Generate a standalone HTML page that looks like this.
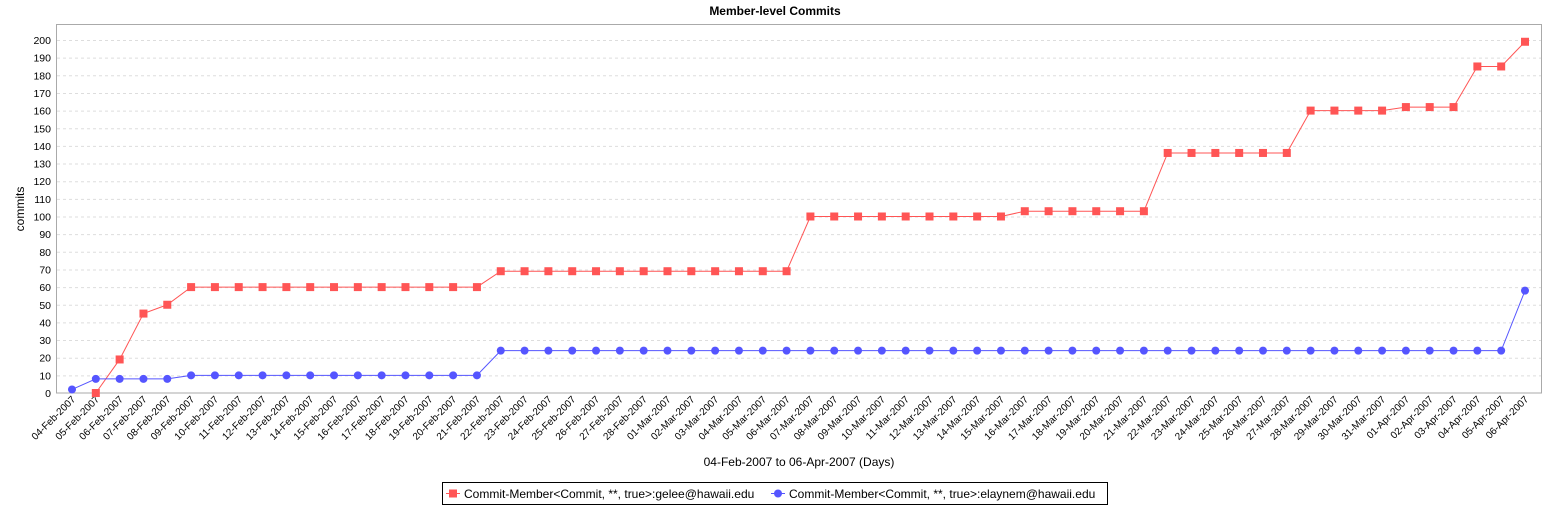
<!DOCTYPE html>
<html><head><meta charset="utf-8"><style>
body{margin:0;background:#fff;font-family:"Liberation Sans",sans-serif}
svg text{font-family:"Liberation Sans",sans-serif}
</style></head><body>
<svg id="chart" width="1550" height="506" xmlns="http://www.w3.org/2000/svg">
<text x="775" y="15" text-anchor="middle" font-size="12" font-weight="bold">Member-level Commits</text>
<rect x="56.5" y="24.5" width="1485" height="368.5" fill="#fff" stroke="#aaa"/>
<g id="grid"></g><g id="yticks"></g><g id="xticks"></g><g id="series"></g>
<text transform="translate(24,209) rotate(-90)" text-anchor="middle" font-size="12">commits</text>
<text x="799" y="466" text-anchor="middle" font-size="12">04-Feb-2007 to 06-Apr-2007 (Days)</text>
<g>
<rect x="442.5" y="482.5" width="665" height="22" fill="#fff" stroke="#000"/>
<g>
<line x1="446" y1="493.5" x2="460" y2="493.5" stroke="#ff5555"/><rect x="449" y="489.5" width="8" height="8" fill="#ff5555"/>
<text x="464" y="498" font-size="12">Commit-Member&lt;Commit, **, true&gt;:gelee@hawaii.edu</text></g>
<g>
<line x1="771" y1="493.5" x2="785" y2="493.5" stroke="#5555ff"/><circle cx="778" cy="493.5" r="4" fill="#5555ff"/>
<text x="789" y="498" font-size="12">Commit-Member&lt;Commit, **, true&gt;:elaynem@hawaii.edu</text></g>
</g>
</svg>
<script>
const months=[["Feb",4,28],["Mar",1,31],["Apr",1,6]];
const categories=[];
months.forEach(m=>{for(let d=m[1];d<=m[2];d++)categories.push(String(d).padStart(2,'0')+'-'+m[0]+'-2007');});
const yTicks=[0,10,20,30,40,50,60,70,80,90,100,110,120,130,140,150,160,170,180,190,200];
const geleeValues=[null,0,19,45,50,60,60,60,60,60,60,60,60,60,60,60,60,60,69,69,69,69,69,69,69,69,69,69,69,69,69,100,100,100,100,100,100,100,100,100,103,103,103,103,103,103,136,136,136,136,136,136,160,160,160,160,162,162,162,185,185,199];
const elaynemValues=[2,8,8,8,8,10,10,10,10,10,10,10,10,10,10,10,10,10,24,24,24,24,24,24,24,24,24,24,24,24,24,24,24,24,24,24,24,24,24,24,24,24,24,24,24,24,24,24,24,24,24,24,24,24,24,24,24,24,24,24,24,58];
const NS="http://www.w3.org/2000/svg";
const x=i=>72+i*(1525-72)/(categories.length-1);
const y=v=>393-v*(393-40)/200;
function mk(t,a,p){const e=document.createElementNS(NS,t);for(const k in a)e.setAttribute(k,a[k]);p.appendChild(e);return e;}
const grid=document.getElementById('grid'),yt=document.getElementById('yticks'),xt=document.getElementById('xticks'),ser=document.getElementById('series');
yTicks.forEach(v=>{
 if(v>0){const g=mk('line',{x1:57,x2:1541,y1:y(v)+.5,y2:y(v)+.5,stroke:'#ddd','stroke-dasharray':'3,3'},grid);
 
 }
 const t=mk('text',{x:51,y:y(v)+4,'text-anchor':'end','font-size':'10.5'},yt);t.textContent=v;
 
 
});
categories.forEach((c,i)=>{
 const t=mk('text',{transform:`translate(${x(i)+4},${400}) rotate(-45)`,'text-anchor':'end','font-size':'10'},xt);t.textContent=c;
 
 
});
function draw(vals,color,shape,name){
 const pts=[];vals.forEach((v,i)=>{if(v!==null)pts.push([x(i),y(v)]);});
 const pl=mk('polyline',{points:pts.map(p=>p.join(',')).join(' '),fill:'none',stroke:color,'stroke-width':1},ser);
 
 
 pts.forEach(p=>{
  const m=shape==='sq'?mk('rect',{x:p[0]-4,y:p[1]-4,width:8,height:8,fill:color},ser):mk('circle',{cx:p[0],cy:p[1],r:4,fill:color},ser);
  
  
 });
}
draw(geleeValues,'#ff5555','sq','gelee');
draw(elaynemValues,'#5555ff','ci','elaynem');
</script>
</body></html>
